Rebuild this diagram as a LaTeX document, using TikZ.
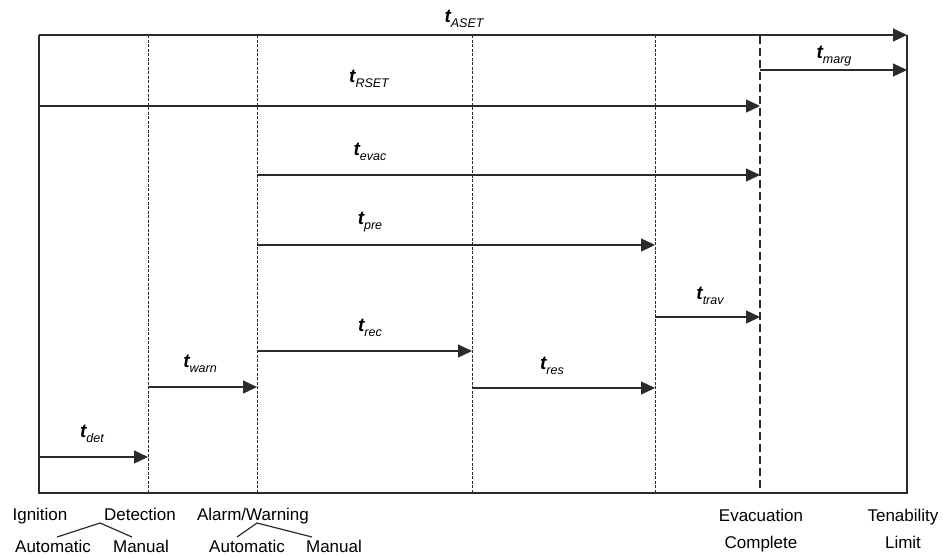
\documentclass[tikz,border=0pt]{standalone}
\usepackage{fontspec}
\setmainfont{Liberation Sans}
\usetikzlibrary{arrows.meta}
\definecolor{Ink}{HTML}{2B2B2B}
\newcommand{\tsym}[1]{{\fontsize{19}{19}\selectfont\bfseries\itshape t}\raisebox{-5pt}{\fontsize{12.5}{12.5}\selectfont\itshape #1}}

\begin{document}
\begin{tikzpicture}[x=1pt,y=-1pt,>={Triangle[length=14pt,width=13pt]},
    arr/.style={->,draw=Ink,line width=1.3pt},
    frame/.style={draw=Ink,line width=1.4pt},
    stageline/.style={draw=Ink,line width=1pt,dash pattern=on 3pt off 1.5pt},
    endline/.style={draw=Ink,line width=2.4pt,dash pattern=on 8pt off 4pt},
    tlab/.style={inner sep=0pt},
    evt/.style={font=\fontsize{17}{17}\selectfont,anchor=base,inner sep=0pt}]
    \useasboundingbox (0,0) rectangle (947,557);
    % frame
    \draw[frame] (907,35) -- (907,493) -- (39,493) -- (39,35);
    \foreach \x in {148,257,472,655}\draw[stageline] (\x,35) -- (\x,493);
    \draw[endline] (760,36) -- (760,493);
    % time spans
    \foreach \n/\xa/\xb/\y in {aset/39/907/35,marg/760/907/70,rset/39/760/106,evac/257/760/175,
        pre/257/655/245,trav/655/760/317,rec/257/472/351,res/472/655/388,warn/148/257/387,det/39/148/457}{
      \coordinate (\n-s) at (\xa,\y);
      \coordinate (\n-e) at (\xb,\y);
      \draw[arr] (\n-s) -- (\n-e);
    }
    \node[tlab] (l-aset) at (464,19) {\tsym{ASET}};
    \node[tlab] (l-marg) at (834,56) {\tsym{marg}};
    \node[tlab] (l-rset) at (369,79) {\tsym{RSET}};
    \node[tlab] (l-evac) at (370,152) {\tsym{evac}};
    \node[tlab] (l-pre) at (370,222) {\tsym{pre}};
    \node[tlab] (l-trav) at (710,296) {\tsym{trav}};
    \node[tlab] (l-rec) at (370,328) {\tsym{rec}};
    \node[tlab] (l-res) at (552,366) {\tsym{res}};
    \node[tlab] (l-warn) at (200,364) {\tsym{warn}};
    \node[tlab] (l-det) at (92,434) {\tsym{det}};
    % events
    \node[evt] (ign) at (40,520) {Ignition};
    \node[evt] (detect) at (140,520) {Detection};
    \node[evt] (alarm) at (253,520) {Alarm/Warning};
    \node[evt] (evac1) at (761,521) {Evacuation};
    \node[evt] (evac2) at (761,548) {Complete};
    \node[evt] (ten1) at (903,521) {Tenability};
    \node[evt] (ten2) at (903,548) {Limit};
    \node[evt] (dauto) at (53,552) {Automatic};
    \node[evt] (dman) at (141,552) {Manual};
    \node[evt] (aauto) at (247,552) {Automatic};
    \node[evt] (aman) at (334,552) {Manual};
    \coordinate (dtop) at (100,523);
    \coordinate (atop) at (257,523);
    \draw[Ink,line width=1.2pt] (57,537) -- (dtop) -- (132,537);
    \draw[Ink,line width=1.2pt] (237,537) -- (atop) -- (312,537);
  \end{tikzpicture}
\end{document}
